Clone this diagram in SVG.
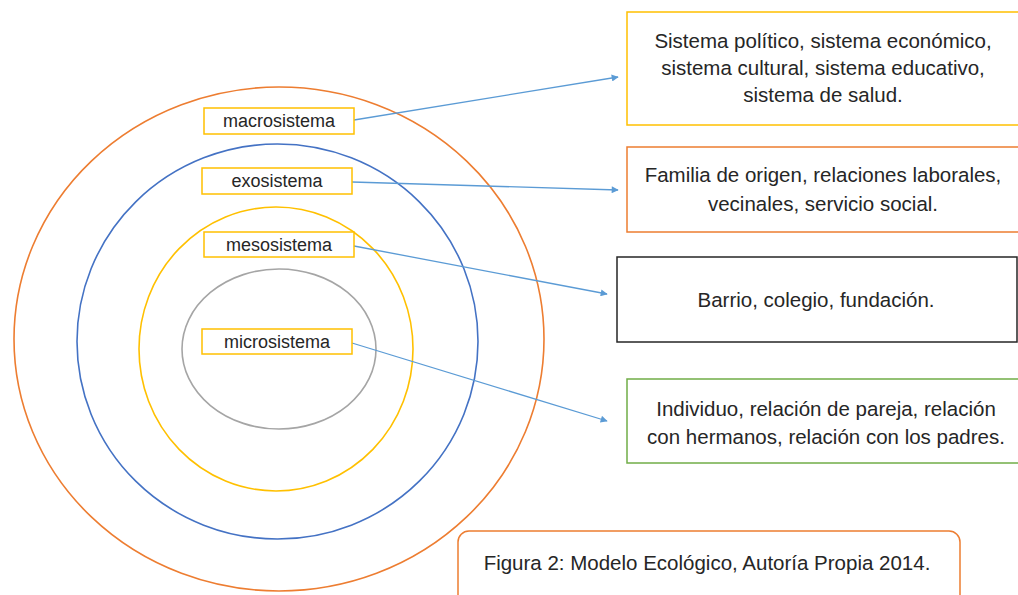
<svg xmlns="http://www.w3.org/2000/svg" width="1018" height="595" viewBox="0 0 1018 595">
<style>
text{font-family:"Liberation Sans",Arial,sans-serif;fill:#262626;text-anchor:middle}
.lbl{font-size:18px}
.big{font-size:20.5px}
.ring{fill:none;stroke-width:1.6}
.tag{fill:#fff;stroke:#ffc000;stroke-width:1.5}
.box{fill:#fff;stroke-width:1.5}
.conn{stroke:#5b9bd5;stroke-width:1.3;fill:none;marker-end:url(#ah)}
</style>
<defs>
<marker id="ah" viewBox="0 0 10 10" refX="9" refY="5" markerWidth="8" markerHeight="7" markerUnits="userSpaceOnUse" orient="auto">
<path d="M0,0 L10,5 L0,10 z" fill="#5b9bd5"/>
</marker>
</defs>
<rect width="1018" height="595" fill="#fff"/>
<g id="rings">
<ellipse class="ring" cx="279" cy="339" rx="265" ry="252" stroke="#ed7d31"/>
<ellipse class="ring" cx="277.5" cy="341.5" rx="200.5" ry="197.5" stroke="#4472c4"/>
<ellipse class="ring" cx="276" cy="349" rx="137" ry="142" stroke="#ffc000"/>
<ellipse class="ring" cx="279" cy="349" rx="97" ry="80" stroke="#a5a5a5"/>
</g>
<g id="connectors">
<line class="conn" x1="354" y1="120" x2="618" y2="77"/>
<line class="conn" x1="352" y1="182" x2="618" y2="190"/>
<line class="conn" x1="354" y1="246" x2="607" y2="294"/>
<line class="conn" x1="352" y1="343" x2="607" y2="421"/>
</g>
<g id="macrosistema">
<rect class="tag" x="204" y="108" width="150" height="26"/>
<text class="lbl" x="279" y="127">macrosistema</text>
</g>
<g id="exosistema">
<rect class="tag" x="202" y="168" width="150" height="26"/>
<text class="lbl" x="277" y="187">exosistema</text>
</g>
<g id="mesosistema">
<rect class="tag" x="204" y="232" width="150" height="25"/>
<text class="lbl" x="279" y="251">mesosistema</text>
</g>
<g id="microsistema">
<rect class="tag" x="202" y="329" width="150" height="25"/>
<text class="lbl" x="277" y="348">microsistema</text>
</g>
<g id="box-macro">
<rect class="box" x="627" y="12" width="393" height="113" stroke="#ffc000"/>
<text class="big" x="823" y="48">Sistema político, sistema económico,</text>
<text class="big" x="823" y="75">sistema cultural, sistema educativo,</text>
<text class="big" x="823" y="102">sistema de salud.</text>
</g>
<g id="box-exo">
<rect class="box" x="627" y="147" width="393" height="85" stroke="#ed7d31"/>
<text class="big" x="823" y="182">Familia de origen, relaciones laborales,</text>
<text class="big" x="823" y="211">vecinales, servicio social.</text>
</g>
<g id="box-meso">
<rect class="box" x="617" y="257" width="400" height="85" stroke="#262626"/>
<text class="big" x="816" y="307">Barrio, colegio, fundación.</text>
</g>
<g id="box-micro">
<rect class="box" x="627" y="379" width="393" height="84" stroke="#70ad47"/>
<text class="big" x="826" y="416">Individuo, relación de pareja, relación</text>
<text class="big" x="826" y="444">con hermanos, relación con los padres.</text>
</g>
<g id="caption">
<rect class="box" x="458" y="531" width="502" height="80" rx="11" stroke="#ed7d31"/>
<text class="big" x="707" y="570">Figura 2: Modelo Ecológico, Autoría Propia 2014.</text>
</g>
</svg>
